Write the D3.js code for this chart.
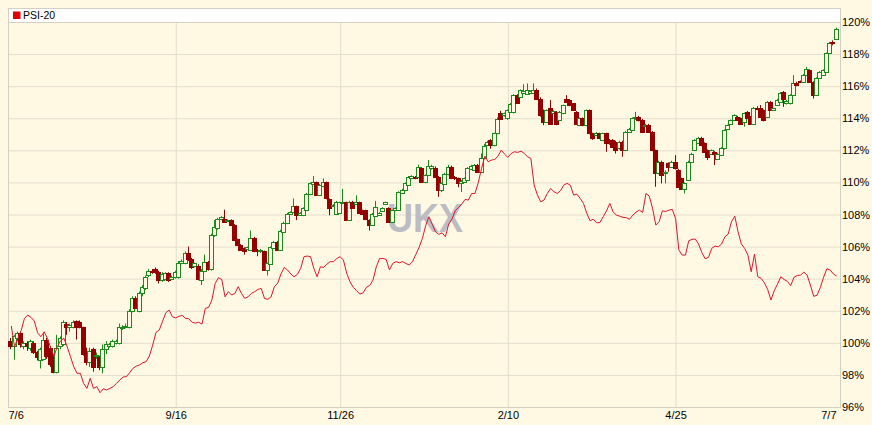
<!DOCTYPE html>
<html><head><meta charset="utf-8">
<script src="https://cdn.jsdelivr.net/npm/d3@7"></script>
<style>
html,body{margin:0;padding:0;background:#fff9e4;}
svg{display:block;}
text{font-family:"Liberation Sans",Arial,sans-serif;}
</style>
</head><body>
<svg id="chart" width="872" height="425"></svg>
<script>
// ---- DATA (percent of start level) ----
const seriesName = "PSI-20";
const watermark = "UKX";
const xTickIndex = [-1, 50, 100, 151, 202, 252];
const xTickLabels = ["7/6", "9/16", "11/26", "2/10", "4/25", "7/7"];
const yTicks = [96, 98, 100, 102, 104, 106, 108, 110, 112, 114, 116, 118, 120];

const openVals = [
100.1,99.8,100.3,100.6,99.8,100.0,99.7,100.0,99.4,98.9,
99.0,100.2,99.7,99.1,98.2,99.8,99.9,101.2,101.0,101.0,
101.35,101.3,101.0,99.5,98.8,99.6,99.2,99.1,98.5,99.6,
99.8,99.8,100.0,100.0,100.9,101.0,101.0,102.0,102.8,102.0,
103.1,103.4,104.2,104.5,104.6,104.4,103.9,103.95,104.35,104.0,
104.1,104.1,104.95,104.95,105.6,105.2,104.8,104.8,103.9,104.5,
105.05,104.6,106.7,107.13,107.7,107.75,107.6,107.65,107.35,106.45,
106.1,105.9,105.85,105.8,106.55,105.8,105.72,105.7,104.55,104.9,
105.9,106.3,105.8,106.9,107.45,108.05,108.15,108.5,108.0,107.95,
108.3,109.3,109.9,110.0,109.2,109.75,110.0,108.95,108.55,108.05,
108.1,108.7,108.75,107.65,108.8,108.65,108.75,108.25,108.25,107.65,
107.35,107.9,108.0,108.2,108.65,108.4,107.55,108.25,108.3,109.35,
109.5,109.85,110.3,110.35,110.35,110.9,110.05,110.45,110.9,110.9,
110.35,109.5,109.9,110.5,110.97,110.35,110.25,109.95,110.05,110.15,
110.85,110.8,111.08,110.66,111.5,112.35,112.64,112.32,113.05,114.3,
114.2,113.99,114.4,114.4,115.44,115.35,115.6,115.5,115.6,115.6,
115.79,115.23,114.5,113.78,114.61,114.35,114.4,113.9,114.3,115.23,
115.13,114.92,114.4,113.57,113.99,113.57,114.5,113.05,112.95,113.05,
112.64,113.05,112.64,112.64,112.53,112.12,112.53,112.01,113.15,113.26,
113.99,114.09,113.88,113.5,113.57,113.15,112.01,110.56,111.29,110.56,
111.18,110.97,111.29,110.77,110.25,109.62,110.14,111.29,112.01,112.43,
112.74,112.43,112.01,111.8,111.91,111.49,111.7,112.12,113.36,113.67,
113.88,114.09,113.99,113.78,114.4,114.09,113.63,114.67,114.61,114.5,
114.09,115.02,114.5,114.82,115.02,115.65,114.92,114.92,115.44,116.21,
116.3,116.27,116.69,117.0,116.27,115.44,116.48,116.69,116.89,118.04,
118.76,118.97];

const highVals = [
100.3,100.5,100.7,100.7,100.1,100.1,100.2,100.1,99.5,99.7,
100.6,100.3,99.8,99.2,100.5,100.4,101.4,101.3,101.2,101.4,
101.4,101.4,101.0,99.7,99.7,99.7,99.4,99.2,99.9,100.1,
100.0,100.2,100.2,101.2,101.1,101.2,102.1,102.9,102.9,103.2,
103.6,104.2,104.6,104.6,104.7,104.5,104.4,104.4,104.4,104.2,
104.5,105.1,105.2,105.7,106.0,105.3,105.0,104.9,104.6,105.5,
105.1,106.8,107.65,107.8,107.9,108.3,107.7,107.7,107.4,106.5,
106.15,105.95,106.0,107.0,106.6,105.85,105.85,105.75,105.0,106.0,
106.35,106.35,107.05,107.55,108.1,108.2,109.0,108.55,108.15,108.45,
109.35,110.0,110.4,110.05,109.9,110.25,110.05,109.0,108.65,108.85,
108.8,109.6,108.8,108.85,108.85,109.2,108.8,108.3,108.3,107.7,
108.1,108.85,108.15,108.45,108.8,108.45,108.3,108.45,109.45,109.6,
110.0,110.4,110.45,110.4,111.1,110.95,110.5,111.4,111.1,111.0,
110.4,110.0,110.6,111.1,111.05,110.4,110.3,110.15,110.3,110.95,
111.1,111.15,111.15,111.8,112.4,112.6,112.7,113.1,114.05,114.46,
114.35,114.55,114.95,115.5,115.5,115.8,116.12,116.17,115.75,116.17,
115.85,115.3,114.55,114.55,115.13,114.5,114.45,114.45,114.85,115.44,
115.2,114.95,114.45,114.05,114.05,114.55,114.55,113.1,113.15,113.1,
113.1,113.1,112.7,112.7,112.6,112.6,112.6,113.2,113.4,114.05,
114.4,114.15,113.95,113.65,113.65,113.2,112.05,111.35,111.35,110.75,
111.25,111.35,111.7,110.85,110.3,110.0,111.35,111.85,112.7,112.84,
112.84,112.5,112.05,112.05,111.95,111.85,112.2,113.3,113.6,113.92,
114.25,114.15,114.05,114.35,114.45,114.15,114.7,114.75,114.82,114.55,
115.07,115.07,114.65,115.2,115.63,115.7,115.15,115.5,116.69,116.27,
116.35,116.75,117.2,117.05,116.3,116.55,116.95,117.05,118.1,118.76,
118.85,119.65];

const lowVals = [
99.6,98.95,100.1,99.7,99.6,99.5,99.5,99.3,98.9,98.4,
98.9,99.0,98.5,98.1,98.1,99.6,99.8,100.5,100.7,100.9,
100.2,100.9,99.2,98.6,98.5,98.2,99.0,98.3,98.1,99.3,
99.7,99.7,99.9,99.9,100.8,100.9,100.9,101.9,102.1,101.9,
102.9,103.3,104.1,104.3,104.3,103.7,103.8,103.9,103.8,103.95,
104.0,104.0,104.9,104.9,105.1,104.6,104.7,103.9,103.6,104.4,
104.5,104.5,106.6,107.05,107.65,107.5,107.55,107.3,106.35,106.05,
105.75,105.5,105.8,105.75,105.65,105.4,105.6,104.5,104.2,104.85,
105.85,105.75,105.75,106.85,107.4,108.0,108.1,107.65,107.95,107.9,
108.25,109.25,109.85,109.15,109.15,109.7,108.95,107.95,108.5,108.0,
108.05,108.65,107.6,107.6,108.35,108.6,108.05,108.0,107.65,107.0,
107.3,107.85,107.95,108.15,108.6,107.5,107.5,108.2,108.25,109.3,
109.45,109.8,110.25,110.2,110.3,110.0,109.95,110.4,110.8,110.3,
109.1,109.4,109.85,110.45,110.2,110.15,109.7,109.4,110.0,110.1,
110.8,110.75,110.6,110.6,111.45,112.3,112.1,112.25,113.0,113.9,
114.1,113.9,114.35,114.3,114.9,115.3,115.55,115.45,115.55,115.55,
115.2,114.1,113.57,113.7,113.6,114.3,113.57,113.85,114.25,115.0,
114.75,114.45,113.6,113.5,113.5,113.5,113.0,112.65,112.9,112.7,
112.6,111.91,112.35,112.15,111.8,112.05,111.6,111.95,113.1,113.2,
113.9,113.8,113.1,113.45,113.1,111.95,109.73,110.5,109.94,109.94,
110.66,110.9,110.8,109.65,109.55,109.31,110.1,111.25,111.95,112.4,
112.25,111.85,111.39,111.75,111.08,111.45,111.65,112.05,113.3,113.6,
113.85,113.85,113.6,113.47,113.95,113.6,113.6,114.5,114.05,113.8,
114.05,114.45,114.45,114.78,114.98,114.71,114.85,114.85,115.4,116.0,
116.2,116.2,116.65,116.2,115.23,115.4,116.45,116.65,116.85,118.0,
118.55,118.9];

const closeVals = [
99.8,100.4,100.6,99.9,100.0,99.8,100.1,99.4,99.1,99.6,
100.2,99.2,98.7,98.2,99.7,100.3,101.3,101.0,101.1,101.3,
101.0,101.0,99.3,98.8,99.5,98.5,99.25,98.5,99.6,99.9,
99.9,100.1,100.1,101.0,101.0,101.05,102.0,102.8,102.2,103.1,
103.5,104.1,104.5,104.4,104.4,103.9,104.3,104.35,103.9,104.1,
104.4,105.0,105.1,105.6,105.2,104.7,104.95,104.0,104.5,105.05,
104.6,106.7,107.2,107.75,107.85,107.55,107.65,107.35,106.4,106.1,
105.8,105.7,105.95,106.55,105.7,105.7,105.8,104.55,104.95,105.95,
106.3,105.8,107.0,107.5,108.05,108.15,108.5,107.95,108.1,108.4,
109.3,109.95,110.0,109.2,109.85,110.0,109.0,108.4,108.6,108.8,
108.75,108.8,107.65,108.8,108.4,108.75,108.1,108.05,107.7,107.35,
108.05,108.45,108.1,108.4,108.75,107.55,108.25,108.4,109.4,109.55,
109.95,110.35,110.4,110.25,110.95,110.05,110.45,111.05,111.0,110.35,
109.5,109.95,110.55,110.97,110.25,110.25,109.95,110.1,110.25,110.87,
111.0,111.08,110.66,111.5,112.3,112.55,112.32,113.05,113.98,113.98,
114.3,114.5,114.9,115.44,114.95,115.75,115.71,115.79,115.68,115.79,
115.23,114.19,113.78,114.5,113.67,114.45,113.67,114.4,114.82,115.04,
114.82,114.5,113.67,113.99,113.57,114.5,113.05,112.74,113.05,112.74,
113.05,112.43,112.43,112.22,112.01,112.53,112.01,113.15,113.36,113.99,
114.09,113.88,113.15,113.6,113.15,112.01,110.56,111.29,110.45,110.66,
110.97,111.29,110.87,109.73,109.62,109.94,111.29,111.8,112.64,112.74,
112.32,111.91,111.6,112.01,111.8,111.8,112.12,113.26,113.57,113.88,
114.19,113.88,113.67,114.3,113.99,113.67,114.67,114.55,114.09,113.88,
115.02,114.5,114.61,115.13,115.58,115.23,115.1,115.44,116.17,116.06,
116.25,116.69,117.04,116.27,115.44,116.48,116.89,117.0,118.04,118.66,
118.66,119.59];

const psiVals = [
101.05,99.76,100.28,100.76,101.52,101.73,101.59,101.36,100.63,100.38,
100.69,100.28,99.66,99.18,99.76,100.13,100.28,99.76,99.14,98.51,
98.1,98.1,97.47,97.16,97.79,97.16,97.27,96.89,97.14,97.06,
97.16,97.27,97.47,97.68,97.87,97.89,98.14,98.41,98.55,98.62,
98.76,98.82,99.18,99.86,100.65,100.8,101.34,101.88,102.04,101.63,
101.55,101.65,101.71,101.52,101.5,101.28,101.23,101.28,101.17,102.15,
102.21,102.67,103.7,104.06,103.95,102.87,103.19,102.98,103.08,103.5,
103.08,102.77,102.87,103.08,103.19,103.33,103.39,102.77,102.71,102.87,
103.5,103.71,104.29,104.7,104.54,104.29,104.12,104.27,104.64,105.37,
105.41,105.37,104.64,104.12,104.74,104.7,104.91,105.06,105.06,105.26,
105.37,105.16,104.33,103.81,103.46,103.25,103.04,103.12,103.46,103.58,
103.91,104.74,105.26,105.26,105.2,104.54,104.95,105.06,104.99,105.06,
104.95,104.85,105.06,105.5,105.95,106.5,107.3,107.86,107.4,106.92,
106.76,106.86,106.61,107.4,107.71,108.23,108.44,108.65,108.94,108.9,
109.31,109.31,109.98,110.87,111.64,111.29,111.39,111.43,111.64,112.01,
111.76,111.56,111.8,111.91,111.87,111.95,111.8,111.6,111.49,109.83,
109.21,108.79,108.9,109.31,109.62,109.42,109.31,109.48,109.83,109.94,
109.83,109.21,109.27,109.0,108.69,108.07,107.61,107.71,107.48,107.5,
107.86,108.23,108.69,108.17,107.96,107.9,107.82,107.8,107.7,107.96,
108.15,108.27,108.13,109.31,109.15,108.38,107.34,107.55,108.23,108.19,
108.27,108.32,107.76,105.78,105.47,105.47,106.36,106.45,106.47,106.16,
105.62,105.24,105.33,105.89,106.03,105.99,106.16,106.61,106.78,107.55,
107.9,106.92,106.16,105.89,105.47,104.43,105.53,104.12,104.02,103.75,
103.33,102.67,103.25,103.66,104.12,103.95,103.83,103.56,104.08,104.2,
104.22,104.41,104.22,103.6,102.9,102.96,103.44,104.08,104.62,104.54,
104.29,104.16];

// ---- STYLE ----
const BG = "#fff9e4", GRID = "#e2ddcc", BORDER = "#d3cfc2";
const UP = "#1a8a1a", DOWN = "#940000", LINE = "#e0142c";

const W = 872, H = 425;
const P = {left: 8, right: 840, top: 22, bottom: 407};

const x = d3.scaleLinear().domain([-1, 252]).range([P.left, P.right]);
const y = d3.scaleLinear().domain([96, 120]).range([P.bottom, P.top]);

const svg = d3.select("#chart");
svg.append("rect").attr("width", W).attr("height", H).attr("fill", BG);

// legend box
svg.append("rect").attr("x", P.left + 0.5).attr("y", 8.5)
  .attr("width", P.right - P.left).attr("height", P.top - 8)
  .attr("fill", "#ffffff").attr("stroke", BORDER);
svg.append("rect").attr("x", 13).attr("y", 11.5).attr("width", 7.5).attr("height", 7.5).attr("fill", "#e00000");
svg.append("text").attr("x", 23).attr("y", 19.2).attr("font-size", 10.5).attr("fill", "#000").text(seriesName);

// y axis with gridlines
const yAxis = d3.axisRight(y).tickValues(yTicks).tickSize(-(P.right - P.left)).tickPadding(2)
  .tickFormat(d => d + "%");
const gy = svg.append("g").attr("transform", `translate(${P.right},0)`).call(yAxis);
gy.select(".domain").remove();
gy.selectAll("line").attr("stroke", GRID);
gy.selectAll("text").attr("font-size", 11).attr("fill", "#000").attr("font-family", "Liberation Sans, Arial, sans-serif");

// x axis with gridlines
const xAxis = d3.axisBottom(x).tickValues(xTickIndex).tickSize(-(P.bottom - P.top)).tickPadding(4)
  .tickFormat((d, i) => xTickLabels[i]);
const gx = svg.append("g").attr("transform", `translate(0,${P.bottom})`).call(xAxis);
gx.select(".domain").remove();
gx.selectAll("line").attr("stroke", GRID);
gx.selectAll("text").attr("font-size", 11).attr("fill", "#000").attr("font-family", "Liberation Sans, Arial, sans-serif")
  .attr("text-anchor", (d, i) => i === 0 ? "start" : (i === xTickIndex.length - 1 ? "end" : "middle"))
  .attr("dx", (d, i) => i === xTickIndex.length - 1 ? -4 : 0);

// plot border
svg.append("rect").attr("x", P.left + 0.5).attr("y", P.top + 0.5)
  .attr("width", P.right - P.left).attr("height", P.bottom - P.top)
  .attr("fill", "none").attr("stroke", BORDER);

// watermark
svg.append("text").attr("x", 425).attr("y", 232).attr("text-anchor", "middle")
  .attr("font-size", 41).attr("font-weight", "bold").attr("fill", "#bcbcc3")
  .attr("textLength", 76).attr("lengthAdjust", "spacingAndGlyphs").text(watermark);

// candles
const candles = d3.range(closeVals.length).map(i => ({
  i, o: openVals[i], h: highVals[i], l: lowVals[i], c: closeVals[i]
}));
const cg = svg.append("g");
const cs = cg.selectAll("g").data(candles).join("g");
cs.each(function(d) {
  const g = d3.select(this);
  const cx = Math.round(x(d.i));
  const up = d.c >= d.o;
  const col = up ? UP : DOWN;
  g.append("line").attr("x1", cx - 0.5).attr("x2", cx - 0.5)
    .attr("y1", y(d.h)).attr("y2", y(d.l)).attr("stroke", col).attr("stroke-width", 1);
  const yt = Math.round(y(Math.max(d.o, d.c))) + 0.5;
  const yb = Math.round(y(Math.min(d.o, d.c))) + 0.5;
  g.append("rect").attr("x", cx - 2.5).attr("width", 4)
    .attr("y", yt).attr("height", Math.max(yb - yt, 0.01))
    .attr("fill", up ? BG : DOWN).attr("stroke", col).attr("stroke-width", 1);
});

// PSI-20 line
const line = d3.line().x((d, i) => x(i)).y(d => y(d));
svg.append("path").datum(psiVals).attr("d", line)
  .attr("fill", "none").attr("stroke", LINE).attr("stroke-width", 1);
</script>
</body></html>
